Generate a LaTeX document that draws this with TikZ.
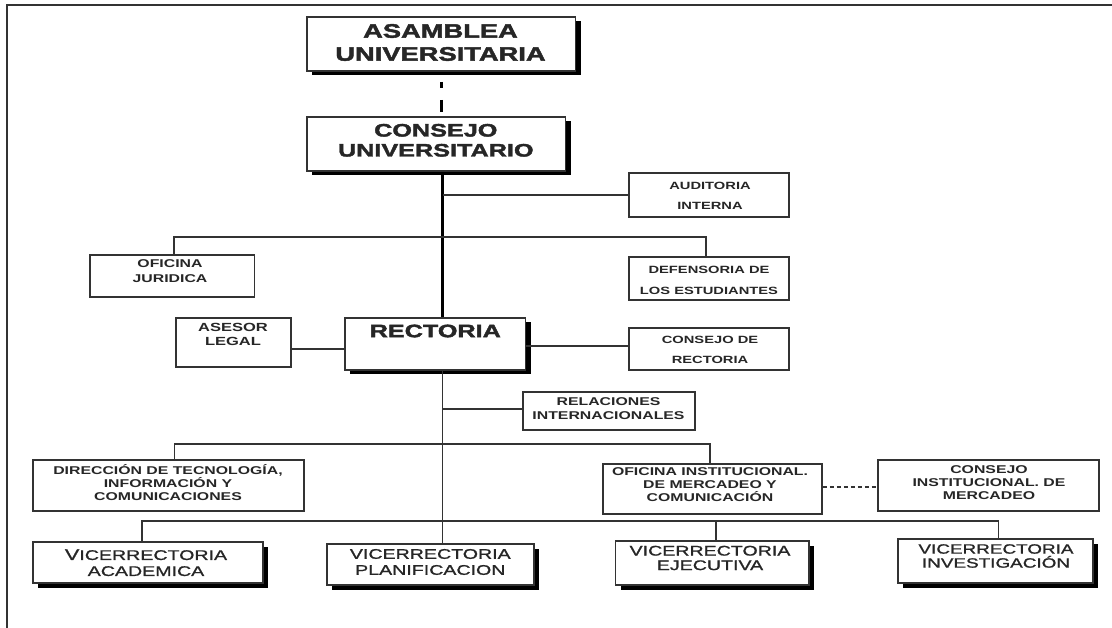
\documentclass[tikz,border=0pt]{standalone}
\usepackage{fontspec}
\newfontfamily\af[FakeStretch=1.4]{Liberation Sans}
\newfontfamily\afm[FakeStretch=1.4, FakeBold=1.2]{Liberation Sans}
\newfontfamily\afh[FakeStretch=1.4, FakeBold=2.2]{Liberation Sans Bold}
\usetikzlibrary{shadows}
\definecolor{ink}{HTML}{262626}
\definecolor{ln}{HTML}{333333}
\newcommand\fs[2]{\fontsize{#1}{#2}\selectfont}
\begin{document}
\begin{tikzpicture}[x=1pt,y=-1pt,
  box/.style={draw=ln, line width=1.7pt, fill=white, inner sep=0pt, rectangle},
  sbox/.style={box, drop shadow={shadow xshift=5pt, shadow yshift=-4.5pt, fill=black, opacity=1}},
  txt/.style={inner sep=0pt, align=center, text=ink},
  con/.style={draw=ln, line width=1.8pt},
  spine/.style={draw=black, line width=3.8pt},
  topdash/.style={draw=black, line width=3.3pt, dash pattern=on 0pt off 10pt on 6pt off 12pt on 12pt off 10pt},
  softdash/.style={draw=ln, line width=1.5pt, dash pattern=on 4pt off 3pt},
]
\fill[white] (0,0) rectangle (1112,628);
\useasboundingbox (0,0) rectangle (1112,628);
\draw[line width=1.6pt, ln] (7,628) -- (7,5) -- (1112,5);

% boxes
\node[sbox, minimum width=268.5pt, minimum height=54pt] (asm) at (441.25,44) {};
\node[sbox, minimum width=258.6pt, minimum height=54pt] (cu) at (436.3,144) {};
\node[box, minimum width=160.3pt, minimum height=44pt] (aud) at (708.85,195) {};
\node[box, minimum width=164.6pt, minimum height=42pt] (ofj) at (172.3,276) {};
\node[box, minimum width=160.3pt, minimum height=43pt] (def) at (708.85,278.5) {};
\node[sbox, minimum width=180.5pt, minimum height=52pt] (rec) at (435.25,344) {};
\node[box, minimum width=115pt, minimum height=49pt] (ase) at (233.5,342.5) {};
\node[box, minimum width=160pt, minimum height=42pt] (cdr) at (709,349) {};
\node[box, minimum width=172pt, minimum height=38pt] (rel) at (609,411) {};
\node[box, minimum width=271pt, minimum height=51pt] (dir) at (168.5,485.5) {};
\node[box, minimum width=219pt, minimum height=50pt] (oin) at (712.5,489) {};
\node[box, minimum width=221pt, minimum height=51pt] (cin) at (988.5,485.5) {};
\node[sbox, minimum width=230pt, minimum height=41pt] (va) at (148,562.5) {};
\node[sbox, minimum width=207pt, minimum height=41pt] (vp) at (430.5,564.5) {};
\node[sbox, minimum width=193.4pt, minimum height=44pt] (ve) at (712.3,563) {};
\node[sbox, minimum width=195pt, minimum height=44pt] (vi) at (995.5,561) {};

% texts
\node[txt, font=\afh\fs{19.5}{23}] (asmT) at (440.5,42.5) {ASAMBLEA\\UNIVERSITARIA};
\node[txt, font=\afh\fs{18}{20}] (cuT) at (435.8,140.3) {CONSEJO\\UNIVERSITARIO};
\node[txt, font=\af\bfseries\fs{10.5}{20}] (audT) at (710,196) {AUDITORIA\\INTERNA};
\node[txt, font=\af\bfseries\fs{11.3}{15}] (ofjT) at (170,271.3) {OFICINA\\JURIDICA};
\node[txt, font=\af\bfseries\fs{10.5}{21}] (defT) at (709,280) {DEFENSORIA DE\\LOS ESTUDIANTES};
\node[txt, font=\afh\fs{18}{20}] (recT) at (435.3,331) {RECTORIA};
\node[txt, font=\af\bfseries\fs{11.8}{14}] (aseT) at (233,334.5) {ASESOR\\LEGAL};
\node[txt, font=\af\bfseries\fs{10.5}{20}] (cdrT) at (710,350) {CONSEJO DE\\RECTORIA};
\node[txt, font=\af\bfseries\fs{11.3}{14}] (relT) at (608.5,408.3) {RELACIONES\\INTERNACIONALES};
\node[txt, font=\af\bfseries\fs{11.3}{13}] (dirT) at (168,483) {DIRECCIÓN DE TECNOLOGÍA,\\INFORMACIÓN Y\\COMUNICACIONES};
\node[txt, font=\af\bfseries\fs{11.3}{13}] (oinT) at (710,485) {OFICINA INSTITUCIONAL.\\DE MERCADEO Y\\COMUNICACIÓN};
\node[txt, font=\af\bfseries\fs{11.3}{13}] (cinT) at (989,483) {CONSEJO\\INSTITUCIONAL. DE\\MERCADEO};
\node[txt, font=\afm\fs{14}{16}] (vaT) at (146,562.7) {{\fs{15.5}{16}V}ICERRECTORIA\\ACADEMICA};
\node[txt, font=\afm\fs{14}{16}] (vpT) at (430.3,562) {VICERRECTORIA\\PLANIFICACION};
\node[txt, font=\afm\fs{14}{14.5}] (veT) at (710,558) {VICERRECTORIA\\EJECUTIVA};
\node[txt, font=\afm\fs{13.5}{14}] (viT) at (996,556) {VICERRECTORIA\\INVESTIGACIÓN};

% connectors
\coordinate (sp) at (442.5,0);
\coordinate (b1) at (442.5,237);
\coordinate (b2) at (442.5,444);
\coordinate (b3) at (442.5,521);
\draw[topdash] (asm.south) -- (asm.south |- cu.north);
\draw[spine] (cu.south -| sp) -- (rec.north -| sp);
\draw[con] (sp |- aud.west) -- (aud.west);
\draw[con] ([xshift=1.7pt]ofj.north) |- (b1) -| ([xshift=-2.85pt]def.north);
\draw[con] ([yshift=-6.5pt]ase.east) -- ([yshift=-6.5pt]ase.east -| rec.west);
\draw[con] ([yshift=-2pt]rec.east) -- ([yshift=-2pt]rec.east -| cdr.west);
\draw[con] (rec.south -| sp) -- (vp.north -| sp);
\draw[con] ([yshift=2pt]rel.west) -- ([yshift=2pt]rel.west -| sp);
\draw[con] ([xshift=6pt]dir.north) |- (b2) -| ([xshift=-2.5pt]oin.north);
\draw[softdash] ([yshift=2pt]oin.east) -- ([yshift=2pt]oin.east -| cin.west);
\draw[con] ([xshift=-6pt]va.north) |- (b3) -| ([xshift=3.3pt]ve.north);
\draw[con] (b3) -| ([xshift=3pt]vi.north);
\end{tikzpicture}
\end{document}
